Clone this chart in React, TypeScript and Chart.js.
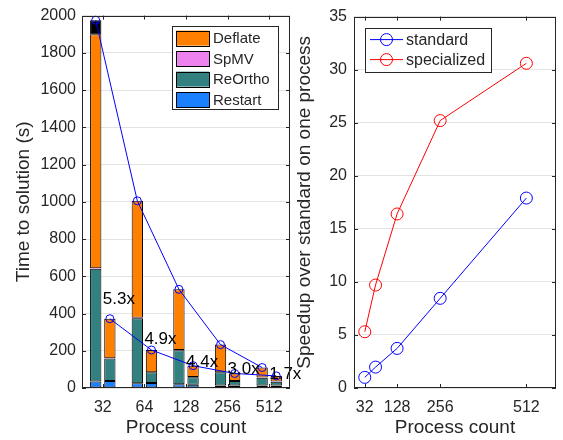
import React, { useEffect, useRef } from 'react';
import { Chart, registerables } from 'chart.js';
Chart.register(...registerables);

// ---------- data ----------
const categories = ['32', '64', '128', '256', '512'];
const stdRestart = [35, 25, 20, 14, 14];
const stdReOrtho = [605, 350, 183, 70, 41];
const stdSpMV = [3, 2, 1, 1, 1];
const stdDeflate = [1257, 628, 326, 148, 54];
const stdOther = [75, 0, 0, 0, 0];
const specRestart = [37, 27, 18, 13, 13];
const specReOrtho = [121, 57, 40, 24, 21];
const specSpMV = [2, 1, 1, 1, 1];
const specDeflate = [212, 119, 61, 40, 30];
const specOther = [0, 0, 0, 0, 0];
const speedupLabels = ['5.3x', '4.9x', '4.4x', '3.0x', '1.7x'];
const speedupLabelY = [475, 260, 140, 100, 75];
const leftYTicks = { min: 0, max: 2000, step: 200 };

const procCounts = [32, 64, 128, 256, 512];
const standardSpeedup = [1.0, 1.97, 3.73, 8.45, 17.9];
const specializedSpeedup = [5.3, 9.7, 16.4, 25.2, 30.6];
const rightXTicks = [32, 128, 256, 512];

// ---------- styles ----------
const FONT = '"Liberation Sans", Arial, Helvetica, sans-serif';
const TXT = '#262626';
const GRID = '#e3e3e3';
const C_DEFLATE = '#ff8000';
const C_SPMV = '#ee82ee';
const C_REORTHO = '#338080';
const C_RESTART = '#1a80ff';
const C_OTHER = '#000000';
const CAT_PCT = 0.68;
const BAR_PCT = 0.8;
const TICK_SIZE = 16;
const TITLE_SIZE = 19;

const sumArr = (...arrs: number[][]) => arrs[0].map((_, i) => arrs.reduce((s, a) => s + a[i], 0));
const nz = (a: number[]) => a.map((v) => (v === 0 ? null : v));

const boxPlugin = {
  id: 'mbox',
  afterDraw(chart: any) {
    const { ctx, chartArea: a } = chart;
    const xs = chart.scales.x;
    const ys = chart.scales.y;
    ctx.save();
    ctx.strokeStyle = TXT;
    ctx.lineWidth = 1;
    ctx.strokeRect(Math.round(a.left) + 0.5, Math.round(a.top) + 0.5, Math.round(a.right - a.left) - 1, Math.round(a.bottom - a.top) - 1);
    ctx.beginPath();
    const tl = 4;
    ys.ticks.forEach((t: any) => {
      const py = Math.round(ys.getPixelForValue(t.value)) + 0.5;
      ctx.moveTo(a.left, py); ctx.lineTo(a.left + tl, py);
      ctx.moveTo(a.right, py); ctx.lineTo(a.right - tl, py);
    });
    xs.ticks.forEach((t: any, i: number) => {
      const px = Math.round(xs.getPixelForTick(i)) + 0.5;
      ctx.moveTo(px, a.bottom); ctx.lineTo(px, a.bottom - tl);
      ctx.moveTo(px, a.top); ctx.lineTo(px, a.top + tl);
    });
    ctx.stroke();
    ctx.restore();
  },
};

const legendPlugin = {
  id: 'mlegend',
  afterDraw(chart: any, _args: any, opts: any) {
    if (!opts || !opts.items) return;
    const { ctx, chartArea: a } = chart;
    const x0 = opts.side === 'right' ? a.right - opts.inset - opts.width : a.left + opts.inset;
    const y0 = a.top + opts.top;
    ctx.save();
    ctx.fillStyle = '#fff';
    ctx.fillRect(x0, y0, opts.width, opts.height);
    ctx.strokeStyle = TXT;
    ctx.lineWidth = 1;
    ctx.strokeRect(Math.round(x0) + 0.5, Math.round(y0) + 0.5, opts.width, opts.height);
    ctx.font = `${opts.fontSize}px ${FONT}`;
    ctx.textBaseline = 'middle';
    ctx.textAlign = 'left';
    opts.items.forEach((it: any, k: number) => {
      const cy = y0 + opts.firstRow + k * opts.rowH;
      if (it.type === 'box') {
        ctx.fillStyle = it.color;
        ctx.fillRect(x0 + opts.swX, cy - opts.swH / 2, opts.swW, opts.swH);
        ctx.strokeStyle = '#000';
        ctx.strokeRect(Math.round(x0 + opts.swX) + 0.5, Math.round(cy - opts.swH / 2) + 0.5, opts.swW, opts.swH);
      } else {
        ctx.strokeStyle = it.color;
        ctx.beginPath();
        ctx.moveTo(x0 + opts.swX, cy);
        ctx.lineTo(x0 + opts.swX + opts.swW, cy);
        ctx.stroke();
        ctx.beginPath();
        ctx.arc(x0 + opts.swX + opts.swW / 2, cy, 6, 0, Math.PI * 2);
        ctx.stroke();
      }
      ctx.fillStyle = TXT;
      ctx.fillText(it.label, x0 + opts.textX, cy + 1);
    });
    ctx.restore();
  },
};

// total-time line through the tops of each stack, positioned from the bar elements and y scale
const totalsPlugin = {
  id: 'mtotals',
  afterDatasetsDraw(chart: any, _args: any, opts: any) {
    if (!opts || !opts.series) return;
    const { ctx } = chart;
    const ys = chart.scales.y;
    ctx.save();
    ctx.strokeStyle = '#0000ff';
    ctx.lineWidth = 1;
    opts.series.forEach((s: any) => {
      const meta = chart.getDatasetMeta(s.baseIndex);
      const pts = s.totals.map((t: number, i: number) => [meta.data[i].x, ys.getPixelForValue(t)]);
      ctx.beginPath();
      pts.forEach((p: number[], i: number) => (i ? ctx.lineTo(p[0], p[1]) : ctx.moveTo(p[0], p[1])));
      ctx.stroke();
      pts.forEach((p: number[]) => {
        ctx.beginPath();
        ctx.arc(p[0], p[1], 4, 0, Math.PI * 2);
        ctx.stroke();
      });
    });
    // speedup annotations
    const xs = chart.scales.x;
    ctx.font = `17px ${FONT}`;
    ctx.fillStyle = '#000';
    ctx.textAlign = 'left';
    ctx.textBaseline = 'middle';
    opts.labels.forEach((lab: string, i: number) => {
      ctx.fillText(lab, xs.getPixelForValue(i), ys.getPixelForValue(opts.labelY[i]));
    });
    ctx.restore();
  },
};

export default function App() {
  const leftRef = useRef<HTMLCanvasElement>(null);
  const rightRef = useRef<HTMLCanvasElement>(null);

  useEffect(() => {
    document.body.style.margin = '0';
    const stdTotal = sumArr(stdRestart, stdReOrtho, stdSpMV, stdDeflate, stdOther);
    const specTotal = sumArr(specRestart, specReOrtho, specSpMV, specDeflate, specOther);

    const bar = (label: string, data: number[], color: string, stack: string, bw = 1) => ({
      label,
      data: nz(data),
      backgroundColor: color,
      borderColor: '#000',
      borderWidth: bw,
      borderSkipped: false,
      stack,
    });

    const left = new Chart(leftRef.current!, {
      type: 'bar',
      data: {
        labels: categories,
        datasets: [
          bar('Restart', stdRestart, C_RESTART, 'std'),
          bar('ReOrtho', stdReOrtho, C_REORTHO, 'std'),
          bar('SpMV', stdSpMV, C_SPMV, 'std', 0),
          bar('Deflate', stdDeflate, C_DEFLATE, 'std'),
          bar('Other', stdOther, C_OTHER, 'std'),
          bar('Restart', specRestart, C_RESTART, 'spec'),
          bar('ReOrtho', specReOrtho, C_REORTHO, 'spec'),
          bar('SpMV', specSpMV, C_SPMV, 'spec', 0),
          bar('Deflate', specDeflate, C_DEFLATE, 'spec'),
          bar('Other', specOther, C_OTHER, 'spec'),
        ] as any,
      },
      options: {
        animation: false,
        responsive: false,
        datasets: { bar: { categoryPercentage: CAT_PCT, barPercentage: BAR_PCT } },
        layout: { padding: { top: 12, right: 30, left: 0, bottom: 0 } },
        scales: {
          x: {
            type: 'category',
            stacked: true,
            offset: true,
            grid: { display: false, drawTicks: false },
            border: { display: false },
            ticks: { color: TXT, font: { family: FONT, size: TICK_SIZE }, padding: 10 },
            title: { display: true, text: 'Process count', color: TXT, font: { family: FONT, size: TITLE_SIZE }, padding: { top: 0, bottom: 1 } },
            afterFit: (s: any) => { s.height = 52; },
          },
          y: {
            stacked: true,
            min: leftYTicks.min,
            max: leftYTicks.max,
            ticks: { stepSize: leftYTicks.step, color: TXT, font: { family: FONT, size: TICK_SIZE }, padding: 6, callback: (v: any) => String(v) },
            grid: { color: GRID, drawTicks: false },
            border: { display: false },
            title: { display: true, text: 'Time to solution (s)', color: TXT, font: { family: FONT, size: TITLE_SIZE }, padding: { top: 12, bottom: 0 } },
            afterFit: (s: any) => { s.width = 82; },
          },
        },
        plugins: {
          legend: { display: false },
          tooltip: { enabled: false },
          mlegend: {
            side: 'right', inset: 12, top: 10, width: 106, height: 83, fontSize: 15,
            firstRow: 12.5, rowH: 20.5, swX: 4, swW: 33, swH: 15, textX: 41,
            items: [
              { label: 'Deflate', color: C_DEFLATE, type: 'box' },
              { label: 'SpMV', color: C_SPMV, type: 'box' },
              { label: 'ReOrtho', color: C_REORTHO, type: 'box' },
              { label: 'Restart', color: C_RESTART, type: 'box' },
            ],
          },
          mtotals: {
            series: [
              { baseIndex: 0, totals: stdTotal },
              { baseIndex: 5, totals: specTotal },
            ],
            labels: speedupLabels,
            labelY: speedupLabelY,
          },
        } as any,
      },
      plugins: [boxPlugin, totalsPlugin, legendPlugin],
    });

    const right = new Chart(rightRef.current!, {
      type: 'line',
      data: {
        datasets: [
          {
            label: 'standard',
            data: procCounts.map((p, i) => ({ x: p, y: standardSpeedup[i] })),
            borderColor: '#0000ff', borderWidth: 1, pointRadius: 6,
            pointBorderColor: '#0000ff', pointBackgroundColor: 'rgba(0,0,0,0)', pointBorderWidth: 1,
          },
          {
            label: 'specialized',
            data: procCounts.map((p, i) => ({ x: p, y: specializedSpeedup[i] })),
            borderColor: '#ff0000', borderWidth: 1, pointRadius: 6,
            pointBorderColor: '#ff0000', pointBackgroundColor: 'rgba(0,0,0,0)', pointBorderWidth: 1,
          },
        ],
      },
      options: {
        animation: false,
        responsive: false,
        layout: { padding: { top: 11, right: 3, left: 0, bottom: 0 } },
        scales: {
          x: {
            type: 'linear', min: 0, max: 600,
            afterBuildTicks: (s: any) => { s.ticks = rightXTicks.map((v) => ({ value: v })); },
            grid: { display: false, drawTicks: false },
            border: { display: false },
            ticks: { color: TXT, font: { family: FONT, size: TICK_SIZE }, padding: 10, autoSkip: false, maxRotation: 0 },
            title: { display: true, text: 'Process count', color: TXT, font: { family: FONT, size: TITLE_SIZE }, padding: { top: 0, bottom: 1 } },
            afterFit: (s: any) => { s.height = 52; },
          },
          y: {
            min: 0, max: 35,
            ticks: { stepSize: 5, color: TXT, font: { family: FONT, size: TICK_SIZE }, padding: 7 },
            grid: { color: GRID, drawTicks: false },
            border: { display: false },
            title: { display: true, text: 'Speedup over standard on one process', color: TXT, font: { family: FONT, size: TITLE_SIZE }, padding: { top: 3, bottom: 0 } },
            afterFit: (s: any) => { s.width = 64; },
          },
        },
        plugins: {
          legend: { display: false },
          tooltip: { enabled: false },
          mlegend: {
            side: 'left', inset: 11, top: 11, width: 126, height: 44, fontSize: 16,
            firstRow: 12, rowH: 20, swX: 5, swW: 33, swH: 0, textX: 41,
            items: [
              { label: 'standard', color: '#0000ff', type: 'line' },
              { label: 'specialized', color: '#ff0000', type: 'line' },
            ],
          },
        } as any,
      },
      plugins: [boxPlugin, legendPlugin],
    });

    return () => { left.destroy(); right.destroy(); };
  }, []);

  return (
    <div style={{ position: 'fixed', left: 0, top: 0, width: 563, height: 440, background: '#fff' }}>
      <canvas ref={leftRef} width={320} height={440} style={{ position: 'absolute', left: 0, top: 0, width: 320, height: 440 }} />
      <canvas ref={rightRef} width={273} height={440} style={{ position: 'absolute', left: 290, top: 0, width: 273, height: 440 }} />
    </div>
  );
}
